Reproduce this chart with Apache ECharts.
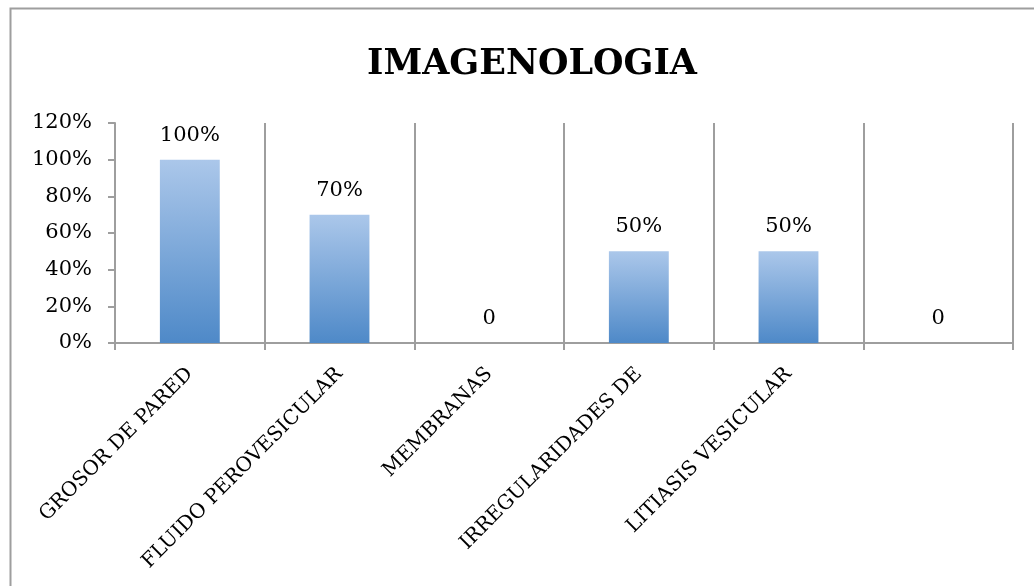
<!DOCTYPE html>
<html>
<head>
<meta charset="utf-8">
<style>html,body{margin:0;padding:0;background:#fff;}#c{width:1034px;height:586px;}</style>
<script src="https://cdn.jsdelivr.net/npm/echarts@6/dist/echarts.min.js"></script>
</head>
<body>
<div id="c"></div>
<script>
var categories = ['GROSOR DE PARED', 'FLUIDO PEROVESICULAR', 'MEMBRANAS', 'IRREGULARIDADES DE', 'LITIASIS VESICULAR', ''];
var values = [100, 70, 0, 50, 50, 0];
var yTicks = [0, 20, 40, 60, 80, 100, 120];
var titleText = 'IMAGENOLOGIA';

var chart = echarts.init(document.getElementById('c'));
var font = 'DejaVu Serif';
var gray = '#9e9e9e';
chart.setOption({
  animation: false,
  backgroundColor: '#fff',
  graphic: [{
    type: 'polyline',
    shape: { points: [[10.5, 600], [10.5, 8.5], [1040, 8.5]] },
    style: { stroke: gray, lineWidth: 2, fill: null }
  }],
  title: {
    text: titleText,
    left: 527,
    top: 42,
    textAlign: 'center',
    textStyle: { fontFamily: font, fontWeight: 'bold', fontSize: 35, color: '#000' }
  },
  grid: { left: 115, right: 21, top: 123, bottom: 243 },
  xAxis: {
    type: 'category',
    data: categories,
    boundaryGap: true,
    axisLine: { lineStyle: { color: gray, width: 2 } },
    axisTick: { show: true, interval: 0, length: 7, lineStyle: { color: gray, width: 2 } },
    splitLine: { show: true, interval: 0, lineStyle: { color: gray, width: 2 } },
    axisLabel: { interval: 0, rotate: 45, margin: 28, fontFamily: font, fontSize: 20, color: '#000' }
  },
  yAxis: {
    type: 'value',
    min: yTicks[0],
    max: yTicks[yTicks.length - 1],
    interval: yTicks[1] - yTicks[0],
    axisLine: { show: true, lineStyle: { color: gray, width: 2 } },
    axisTick: { show: true, length: 7, lineStyle: { color: gray, width: 2 } },
    splitLine: { show: false },
    axisLabel: { formatter: '{value}%', margin: 23, fontFamily: font, fontSize: 21, color: '#000' }
  },
  series: [{
    type: 'bar',
    data: values,
    barWidth: '40%',
    itemStyle: {
      color: new echarts.graphic.LinearGradient(0, 0, 0, 1, [
        { offset: 0, color: '#abc7ea' },
        { offset: 1, color: '#4e89c8' }
      ])
    },
    label: {
      show: true,
      position: 'top',
      distance: 14,
      fontFamily: font,
      fontSize: 21,
      color: '#000',
      formatter: function (p) { return p.value === 0 ? '0' : p.value + '%'; }
    }
  }]
});
</script>
</body>
</html>
